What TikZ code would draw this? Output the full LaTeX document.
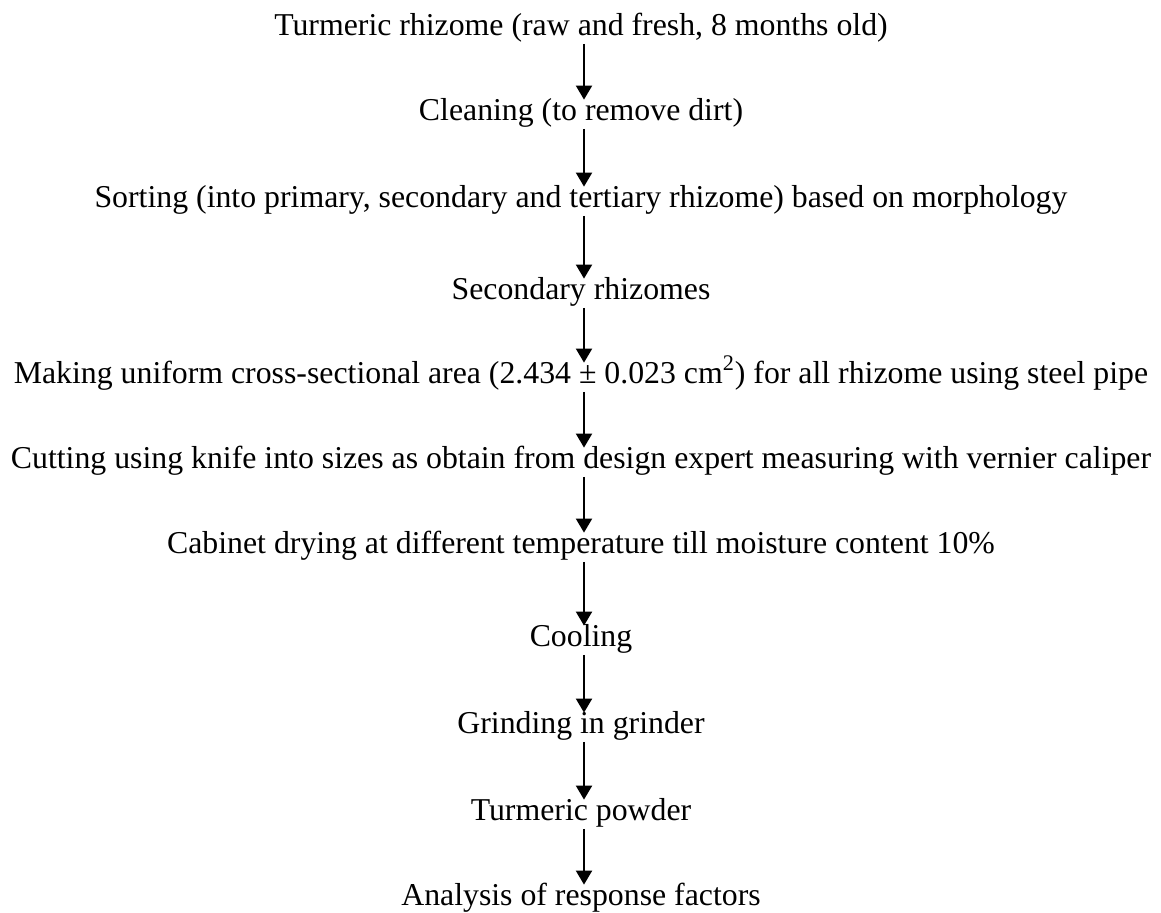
\documentclass[tikz,border=0pt]{standalone}
\usepackage{fontspec}
\setmainfont{Liberation Serif}
\usetikzlibrary{arrows.meta}

\begin{document}
\begin{tikzpicture}[x=0.5pt,y=-0.5pt]
\def \posx {581}
   \tikzset{StepStyle/.style = {inner sep = 0pt, anchor = base, text height = 0.7em, text depth = 0.22em, font = \fontsize{15.9}{19}\selectfont}}
   \tikzset{FlowStyle/.style = {-{Triangle[width=8pt,length=7pt]}, line width = 1pt, shorten <= 2pt, shorten >= 3pt}}
   \useasboundingbox (0,0) rectangle (1161,912);

   \node[StepStyle] (S1) at (\posx,35) {Turmeric rhizome (raw and fresh, 8 months old)};
   \node[StepStyle] (S2) at (\posx,120) {Cleaning (to remove dirt)};
   \node[StepStyle] (S3) at (\posx,207) {Sorting (into primary, secondary and tertiary rhizome) based on morphology};
   \node[StepStyle] (S4) at (\posx,299) {Secondary rhizomes};
   \node[StepStyle] (S5) at (\posx,383) {Making uniform cross-sectional area (2.434 ± 0.023 cm\textsuperscript{2}) for all rhizome using steel pipe};
   \node[StepStyle] (S6) at (\posx,468) {Cutting using knife into sizes as obtain from design expert measuring with vernier caliper};
   \node[StepStyle] (S7) at (\posx,553) {Cabinet drying at different temperature till moisture content 10\%};
   \node[StepStyle] (S8) at (\posx,646) {Cooling};
   \node[StepStyle] (S9) at (\posx,733) {Grinding in grinder};
   \node[StepStyle] (S10) at (\posx,820) {Turmeric powder};
   \node[StepStyle] (S11) at (\posx,905) {Analysis of response factors};

%   arrows sit a little right of the text centre
   \foreach \from/\to in {S1/S2, S2/S3, S3/S4, S4/S5, S5/S6, S6/S7, S7/S8, S8/S9, S9/S10, S10/S11}
      \draw[FlowStyle] ([xshift=1.5pt]\from.south) -- ([xshift=1.5pt]\to.north);

\end{tikzpicture}
\end{document}
